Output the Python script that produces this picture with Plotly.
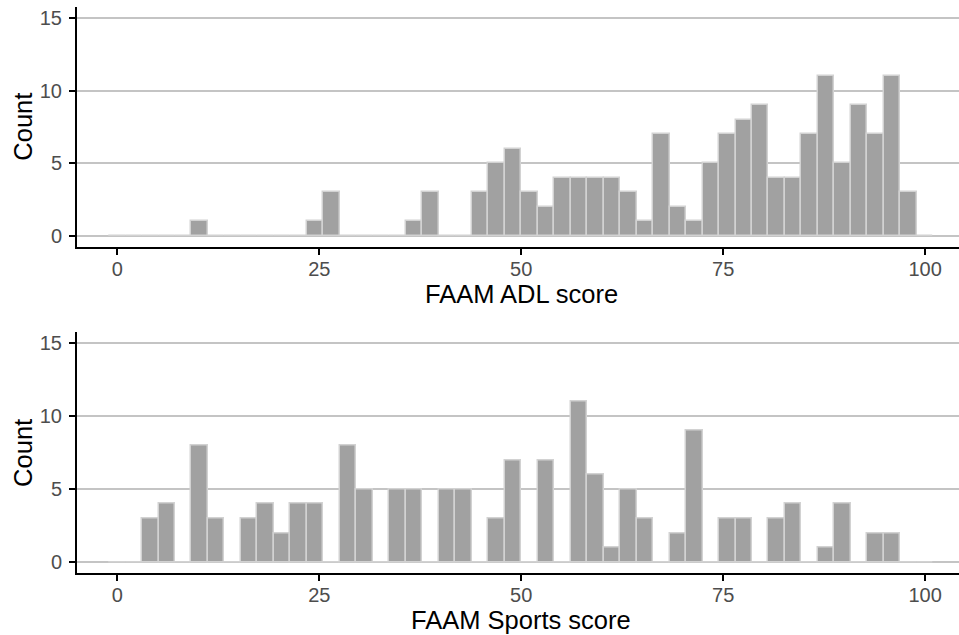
import plotly.graph_objects as go

# Histogram bins (50 bins of width 100/49 centred on k*100/49)
bin_width = 100 / 49
bin_centers = [k * bin_width for k in range(50)]

adl_counts = [0, 0, 0, 0, 0, 1, 0, 0, 0, 0,
              0, 0, 1, 3, 0, 0, 0, 0, 1, 3,
              0, 0, 3, 5, 6, 3, 2, 4, 4, 4,
              4, 3, 1, 7, 2, 1, 5, 7, 8, 9,
              4, 4, 7, 11, 5, 9, 7, 11, 3, 0]

sports_counts = [0, 0, 3, 4, 0, 8, 3, 0, 3, 4,
                 2, 4, 4, 0, 8, 5, 0, 5, 5, 0,
                 5, 5, 0, 3, 7, 0, 7, 0, 11, 6,
                 1, 5, 3, 0, 2, 9, 0, 3, 3, 0,
                 3, 4, 0, 1, 4, 0, 2, 2, 0, 0]

x_tick_vals = [0, 25, 50, 75, 100]
y_tick_vals = [0, 5, 10, 15]
x_titles = ["FAAM ADL score", "FAAM Sports score"]
y_title = "Count"

BAR_FILL = "#a1a1a1"
BAR_LINE = "#d2d2d2"
GRID = "#c4c4c4"
FAMILY = "Liberation Sans, Arial, sans-serif"
TICK_FONT = dict(family=FAMILY, size=20, color="#4d4d4d")
TITLE_FONT = dict(family=FAMILY, size=25.5, color="#000000")

W, H = 959, 635
ML, MR, MT, MB = 77, 0, 7, 62
PW, PH = W - ML - MR, H - MT - MB


def px_x(p):
    return (p - ML) / PW


def px_y(p):
    return (H - MB - p) / PH


fig = go.Figure()
fig.add_trace(go.Bar(x=bin_centers, y=adl_counts, width=bin_width,
                     marker=dict(color=BAR_FILL, line=dict(color=BAR_LINE, width=1.5)),
                     xaxis="x", yaxis="y", showlegend=False, hoverinfo="x+y"))
fig.add_trace(go.Bar(x=bin_centers, y=sports_counts, width=bin_width,
                     marker=dict(color=BAR_FILL, line=dict(color=BAR_LINE, width=1.5)),
                     xaxis="x2", yaxis="y2", showlegend=False, hoverinfo="x+y"))


def xaxis_cfg(anchor):
    return dict(anchor=anchor, range=[-4.99, 104.2], tickvals=x_tick_vals,
                showgrid=False, zeroline=False, showline=True, linecolor="black",
                linewidth=2, ticks="outside", ticklen=6, tickwidth=2, tickcolor="black",
                tickfont=TICK_FONT, automargin=False, ticklabelstandoff=-3)


def yaxis_cfg(anchor, domain):
    return dict(anchor=anchor, domain=domain, range=[-0.75, 15.75], tickvals=y_tick_vals,
                showgrid=True, gridcolor=GRID, gridwidth=1.5, zeroline=False,
                showline=True, linecolor="black", linewidth=2,
                ticks="outside", ticklen=6, tickwidth=2, tickcolor="black",
                tickfont=TICK_FONT, automargin=False, ticklabelstandoff=3)


top_domain = [px_y(246.7), 1.0]
bot_domain = [0.0, px_y(332.4)]

annotations = [
    dict(text=y_title, x=px_x(23), y=px_y(126.7), textangle=-90),
    dict(text=y_title, x=px_x(23), y=px_y(452.9), textangle=-90),
    dict(text=x_titles[0], x=px_x(521), y=px_y(294)),
    dict(text=x_titles[1], x=px_x(521), y=px_y(620)),
]
for a in annotations:
    a.update(xref="paper", yref="paper", showarrow=False, font=TITLE_FONT,
             xanchor="center", yanchor="middle")

fig.update_layout(
    width=W, height=H,
    margin=dict(l=ML, r=MR, t=MT, b=MB, autoexpand=False),
    paper_bgcolor="white", plot_bgcolor="white",
    bargap=0,
    xaxis=xaxis_cfg("y"),
    yaxis=yaxis_cfg("x", top_domain),
    xaxis2=xaxis_cfg("y2"),
    yaxis2=yaxis_cfg("x2", bot_domain),
    annotations=annotations,
)

fig.write_html("out.html",
               config={"displayModeBar": False},
               post_script="document.body.style.margin='0';document.body.style.overflow='hidden';")
